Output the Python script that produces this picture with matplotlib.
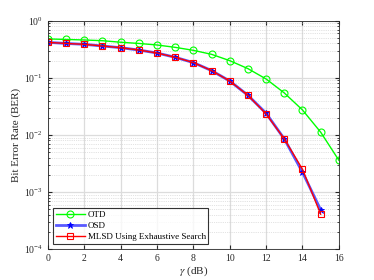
import numpy as np
import matplotlib.pyplot as plt
from matplotlib.ticker import LogLocator, NullFormatter

# SNR points (dB)
gamma_otd = np.arange(0, 17)
gamma_osd = np.arange(0, 16)

# BER
ber_otd = [0.48, 0.47, 0.46, 0.447, 0.42, 0.40, 0.376, 0.342, 0.303, 0.258,
           0.20, 0.145, 0.0955, 0.0544, 0.0274, 0.0112, 0.00361]
ber_osd = [0.418, 0.40, 0.386, 0.361, 0.337, 0.307, 0.272, 0.229, 0.185, 0.134,
           0.088, 0.0495, 0.0240, 0.00853, 0.00223, 0.00049]
ber_mlsd = [0.418, 0.40, 0.386, 0.361, 0.337, 0.307, 0.272, 0.229, 0.185, 0.134,
            0.088, 0.0495, 0.0233, 0.00853, 0.00251, 0.00041]

plt.rcParams['font.family'] = ['Liberation Serif', 'DejaVu Serif']
plt.rcParams['mathtext.fontset'] = 'stix'

fig = plt.figure(figsize=(3.74, 2.8), dpi=100)
ax = fig.add_axes([0.128, 0.11, 0.778, 0.816])

ax.semilogy(gamma_otd, ber_otd, color=(0, 1, 0), lw=1.0, marker='o', ms=5,
            mfc='none', mew=0.8, label='OTD')
ax.semilogy(gamma_osd, ber_osd, color=(0.35, 0.35, 1.0), lw=2.0, marker='*', ms=5,
            mfc='blue', mec='blue', mew=0.6, label='OSD')
ax.semilogy(gamma_osd, ber_mlsd, color=(1, 0, 0), lw=1.0, marker='s', ms=4,
            mfc='none', mew=0.8, label='MLSD Using Exhaustive Search')

ax.set_xlim(0, 16)
ax.set_ylim(1e-4, 1)
ax.set_xticks(range(0, 17, 2))
ax.yaxis.set_minor_locator(LogLocator(base=10, subs=np.arange(2, 10), numticks=20))
ax.yaxis.set_minor_formatter(NullFormatter())

ax.grid(True, which='major', color='#dcdcdc', lw=0.9, ls='-')
ax.grid(True, which='minor', axis='y', color='#c8c8c8', lw=0.5, ls=':')
ax.set_axisbelow(True)

ax.tick_params(which='both', direction='in', top=True, right=True, labelsize=7,
               colors='#262626', length=3)
ax.tick_params(which='minor', length=1.5)
for s in ax.spines.values():
    s.set_color('#262626')
    s.set_linewidth(0.6)

ax.set_xlabel(r'$\gamma$ (dB)', fontsize=8, labelpad=1, color='#262626')
ax.set_ylabel('Bit Error Rate (BER)', fontsize=8, labelpad=2, color='#262626')

leg = ax.legend(loc='lower left', fontsize=6.5, frameon=True, fancybox=False,
                edgecolor='black', borderaxespad=0.6, handlelength=3.2,
                labelspacing=0.3, borderpad=0.3, handletextpad=0.3)
leg.get_frame().set_linewidth(0.8)

fig.savefig('out.png', dpi=100, facecolor='white')
